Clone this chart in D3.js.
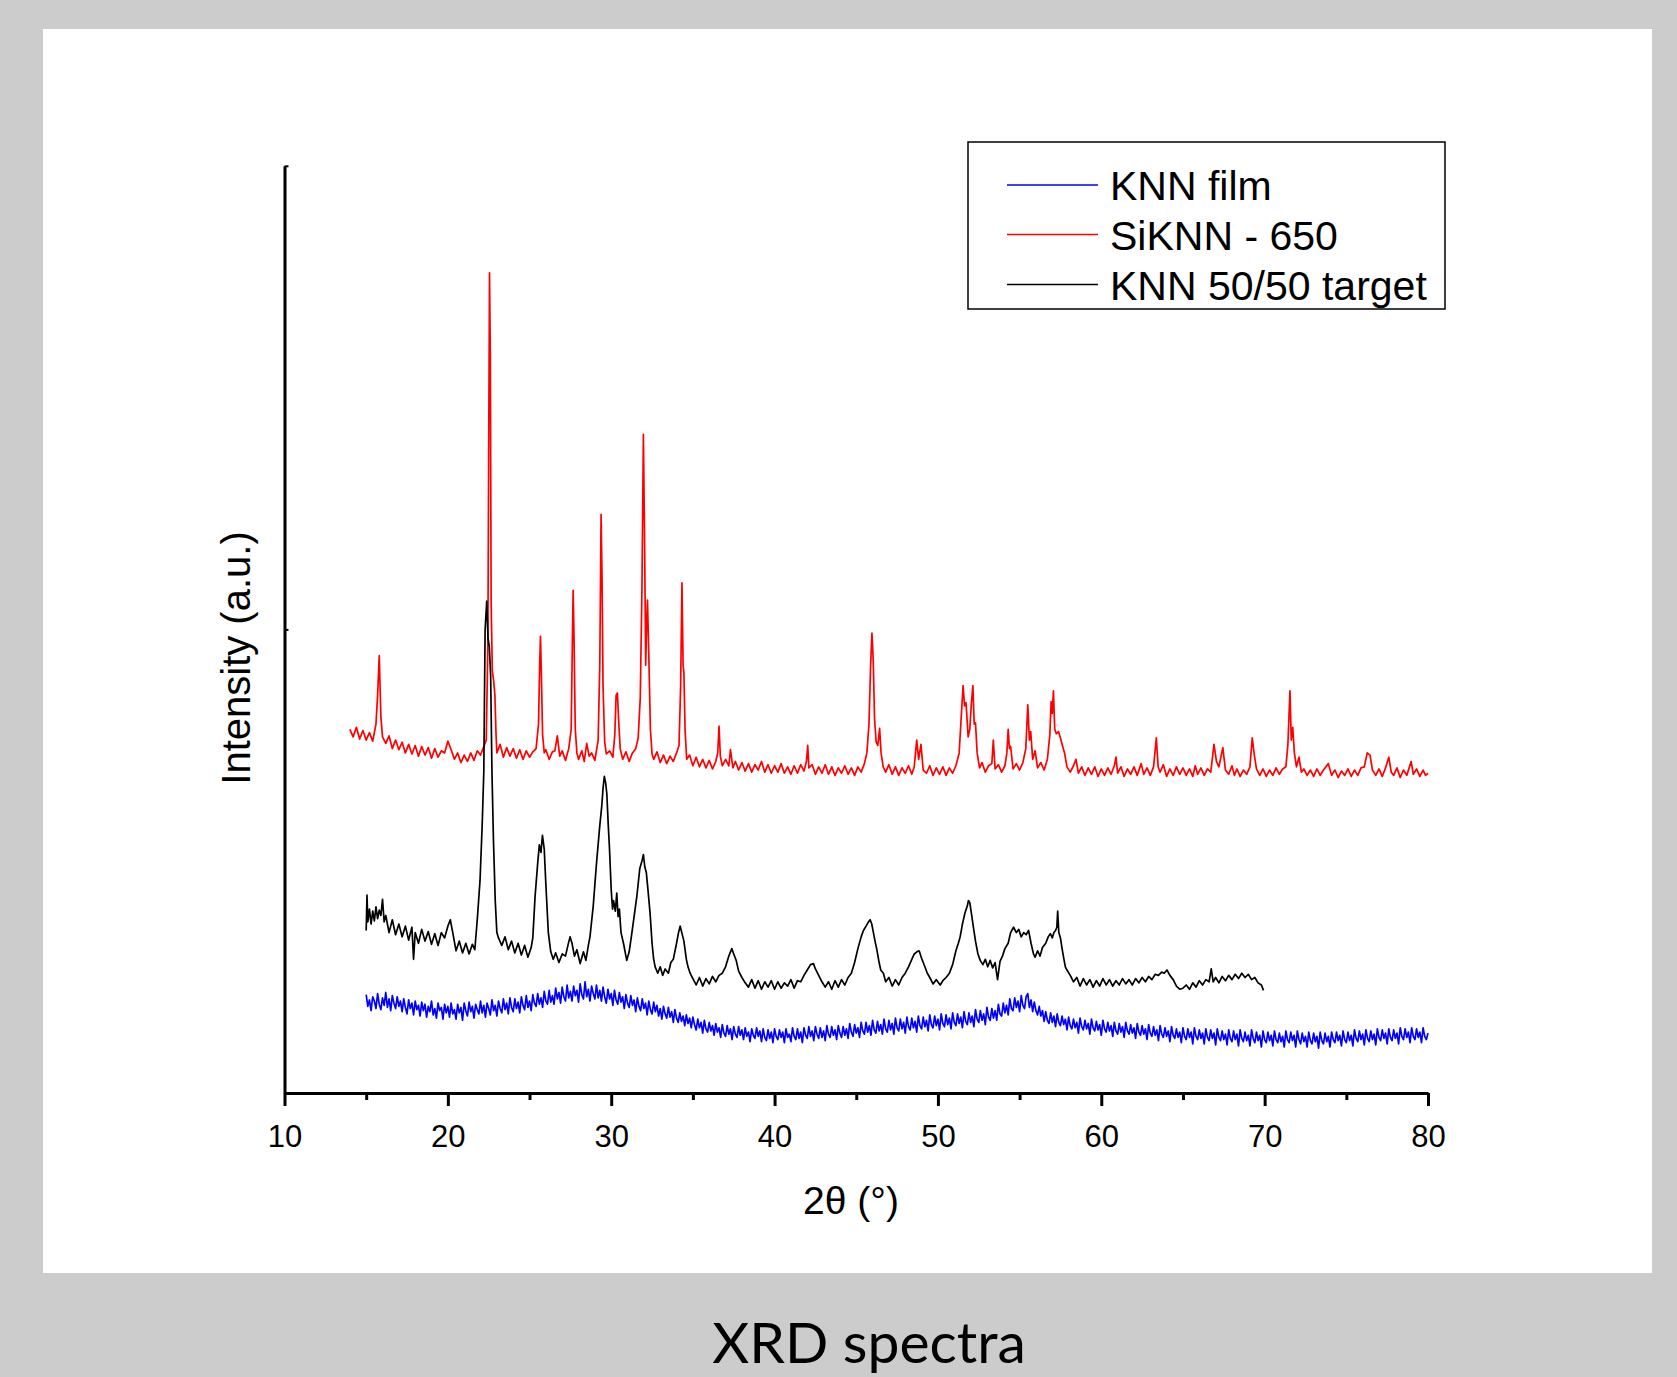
<!DOCTYPE html>
<html>
<head>
<meta charset="utf-8">
<script src="https://cdn.jsdelivr.net/npm/d3@7/dist/d3.min.js"></script>
<style>
html,body{margin:0;padding:0;background:#cccccc;}
svg{display:block;}
</style>
</head>
<body>
<svg id="chart" width="1677" height="1377"></svg>
<script>
// ---------------- DATA ----------------
const xMajorTicks = [10, 20, 30, 40, 50, 60, 70, 80];
const xMinorTicks = [15, 25, 35, 45, 55, 65, 75];
const yTicks = [433.5, 867];
const seriesNames = ["KNN film", "SiKNN - 650", "KNN 50/50 target"];
const seriesColors = ["#0000ff", "#ff0000", "#000000"];
const chartTitle = "XRD spectra";
const xTitle = "2\u03b8 (\u00b0)";
const yTitle = "Intensity (a.u.)";

// SiKNN - 650 (red) [2theta, intensity a.u.]
const siknn650 = [
[14.0,340],[14.2,333],[14.4,342],[14.6,331],[14.8,339],[15.0,330],[15.2,337],[15.4,329],[15.6,345],[15.7,372],[15.8,409],[15.9,352],
[16.0,333],[16.2,327],[16.4,334],[16.6,322],[16.8,330],[17.0,321],[17.2,328],[17.4,318],[17.6,326],[17.8,317],[18.0,325],[18.2,315],
[18.4,324],[18.6,316],[18.8,323],[19.0,313],[19.2,322],[19.4,314],[19.6,320],[19.8,318],[20.0,329],[20.2,321],[20.4,312],[20.6,318],
[20.8,309],[21.0,316],[21.2,310],[21.4,318],[21.6,311],[21.8,320],[22.0,316],[22.2,324],[22.35,330],[22.45,420],[22.5,600],[22.55,767],
[22.6,690],[22.65,460],[22.72,395],[22.8,386],[22.88,372],[22.95,335],[23.0,318],[23.2,326],[23.4,314],[23.6,323],[23.8,315],[24.0,322],
[24.2,313],[24.4,321],[24.6,312],[24.8,320],[25.0,314],[25.2,319],[25.4,322],[25.55,345],[25.62,400],[25.67,427],[25.72,395],[25.8,335],
[25.9,318],[26.0,321],[26.2,312],[26.4,319],[26.55,320],[26.7,334],[26.85,315],[27.0,320],[27.2,311],[27.4,322],[27.55,340],[27.62,420],
[27.67,470],[27.72,430],[27.8,340],[27.9,318],[28.0,312],[28.2,320],[28.35,310],[28.5,327],[28.65,315],[28.8,318],[29.0,311],[29.2,330],
[29.3,400],[29.38,541],[29.44,480],[29.5,380],[29.6,328],[29.7,317],[29.9,320],[30.1,314],[30.22,335],[30.3,372],[30.38,374],[30.45,350],
[30.55,322],[30.7,312],[30.9,319],[31.1,310],[31.3,318],[31.5,322],[31.65,332],[31.78,370],[31.88,470],[31.97,616],[32.04,520],[32.11,400],
[32.17,440],[32.22,461],[32.3,410],[32.4,340],[32.5,317],[32.6,312],[32.8,319],[33.0,309],[33.2,316],[33.4,308],[33.6,315],[33.8,310],
[34.0,318],[34.15,325],[34.25,380],[34.33,477],[34.4,400],[34.45,393],[34.52,340],[34.62,312],[34.8,316],[35.0,306],[35.2,314],[35.4,305],
[35.6,312],[35.8,304],[36.0,311],[36.2,303],[36.4,310],[36.52,318],[36.6,343],[36.68,315],[36.8,306],[37.0,312],[37.2,306],[37.3,321],
[37.45,304],[37.6,310],[37.8,302],[38.0,309],[38.2,301],[38.4,308],[38.6,300],[38.8,307],[39.0,302],[39.2,310],[39.4,300],[39.6,307],
[39.8,299],[40.0,306],[40.2,300],[40.4,308],[40.6,299],[40.8,305],[41.0,298],[41.2,306],[41.4,299],[41.6,307],[41.8,301],[41.95,310],
[42.03,325],[42.1,304],[42.3,307],[42.5,298],[42.7,305],[42.9,299],[43.1,307],[43.3,298],[43.5,305],[43.7,297],[43.9,304],[44.1,299],
[44.3,306],[44.5,298],[44.7,304],[44.9,297],[45.1,305],[45.3,300],[45.5,308],[45.65,318],[45.78,345],[45.88,400],[45.96,430],[46.04,405],
[46.12,350],[46.22,328],[46.32,325],[46.43,341],[46.52,318],[46.65,305],[46.8,300],[47.0,307],[47.2,298],[47.4,305],[47.6,297],[47.8,304],
[48.0,299],[48.2,306],[48.4,298],[48.55,305],[48.7,330],[48.82,312],[48.96,326],[49.1,302],[49.3,299],[49.5,306],[49.7,297],[49.9,304],
[50.1,298],[50.3,305],[50.5,297],[50.7,304],[50.9,299],[51.1,306],[51.3,318],[51.42,350],[51.54,381],[51.63,362],[51.72,365],[51.85,333],
[51.95,340],[52.05,365],[52.14,381],[52.22,345],[52.3,346],[52.4,318],[52.55,304],[52.7,309],[52.9,300],[53.1,306],[53.3,308],[53.39,330],
[53.5,303],[53.7,307],[53.9,300],[54.1,306],[54.22,318],[54.3,340],[54.38,322],[54.45,324],[54.6,303],[54.8,308],[55.0,302],[55.2,309],
[55.38,322],[55.5,363],[55.6,330],[55.68,338],[55.8,312],[55.95,320],[56.1,304],[56.3,309],[56.5,302],[56.7,312],[56.85,335],[56.93,366],
[57.0,355],[57.07,376],[57.15,340],[57.25,336],[57.38,338],[57.5,332],[57.62,325],[57.75,318],[57.9,305],[58.1,300],[58.3,306],[58.45,312],
[58.6,299],[58.8,305],[59.0,297],[59.2,304],[59.4,298],[59.6,305],[59.8,296],[60.0,303],[60.2,297],[60.4,304],[60.6,298],[60.8,306],
[60.9,314],[61.0,299],[61.2,305],[61.4,296],[61.6,303],[61.8,298],[62.0,305],[62.2,297],[62.44,308],[62.6,298],[62.8,304],[63.0,297],
[63.2,305],[63.37,332],[63.48,305],[63.6,300],[63.8,307],[64.0,296],[64.2,303],[64.4,297],[64.6,305],[64.8,298],[65.0,304],[65.2,297],
[65.4,303],[65.6,296],[65.75,306],[65.9,298],[66.1,304],[66.3,297],[66.5,303],[66.7,300],[66.9,326],[67.05,310],[67.2,305],[67.44,323],
[67.6,302],[67.8,298],[68.0,306],[68.15,297],[68.3,303],[68.5,296],[68.7,302],[68.9,298],[69.1,305],[69.24,332],[69.35,318],[69.5,303],
[69.7,297],[69.9,303],[70.1,296],[70.3,302],[70.5,297],[70.7,304],[70.9,298],[71.1,303],[71.3,305],[71.42,325],[71.55,376],[71.63,330],
[71.72,342],[71.82,318],[71.95,305],[72.1,314],[72.25,300],[72.4,303],[72.6,297],[72.8,302],[73.0,296],[73.2,303],[73.4,297],[73.6,302],
[73.9,308],[74.1,297],[74.3,302],[74.5,295],[74.7,301],[74.9,297],[75.1,303],[75.3,296],[75.5,302],[75.7,297],[75.9,304],[76.1,305],
[76.28,318],[76.45,316],[76.6,302],[76.8,297],[77.0,303],[77.2,296],[77.4,304],[77.6,314],[77.75,300],[77.9,297],[78.1,304],[78.3,295],
[78.5,302],[78.7,297],[78.97,310],[79.1,298],[79.3,303],[79.5,296],[79.7,302],[79.85,297],[80.0,299]
];

// KNN 50/50 target (black)
const knnTarget = [
[15.0,152],[15.05,185],[15.1,160],[15.2,172],[15.3,158],[15.4,170],[15.5,161],[15.6,174],[15.7,163],[15.8,171],[15.9,166],[16.0,181],
[16.1,160],[16.2,166],[16.4,150],[16.6,162],[16.8,148],[17.0,158],[17.2,146],[17.4,156],[17.6,143],[17.8,155],[17.9,125],[18.0,150],
[18.2,140],[18.4,153],[18.6,142],[18.8,151],[19.0,139],[19.2,149],[19.4,138],[19.6,150],[19.8,145],[20.0,156],[20.15,162],[20.3,150],
[20.5,133],[20.7,142],[20.9,131],[21.1,140],[21.3,130],[21.5,139],[21.65,134],[21.8,162],[21.97,199],[22.1,250],[22.2,300],[22.28,433],
[22.38,460],[22.46,425],[22.54,417],[22.62,390],[22.7,300],[22.79,237],[22.9,180],[23.0,150],[23.1,145],[23.3,138],[23.5,146],[23.7,134],
[23.9,142],[24.1,131],[24.3,140],[24.5,129],[24.7,138],[24.9,127],[25.1,136],[25.2,145],[25.34,184],[25.5,215],[25.6,232],[25.7,225],
[25.79,241],[25.9,228],[26.0,195],[26.15,150],[26.3,132],[26.45,125],[26.6,131],[26.8,122],[27.0,130],[27.2,128],[27.35,138],[27.48,146],
[27.6,140],[27.75,128],[27.9,134],[28.1,121],[28.3,132],[28.45,124],[28.6,138],[28.7,146],[28.9,175],[29.1,215],[29.3,250],[29.42,268],
[29.5,285],[29.58,296],[29.66,290],[29.73,280],[29.82,250],[29.89,230],[30.0,190],[30.08,172],[30.14,180],[30.25,170],[30.34,187],[30.42,165],
[30.5,172],[30.6,150],[30.75,140],[30.95,124],[31.1,132],[31.25,148],[31.4,165],[31.57,184],[31.75,210],[31.9,218],[31.97,223],[32.05,212],
[32.15,206],[32.25,190],[32.38,168],[32.5,140],[32.6,125],[32.69,118],[32.85,112],[33.0,118],[33.15,110],[33.3,116],[33.5,112],[33.65,122],
[33.8,125],[34.0,140],[34.12,150],[34.22,156],[34.32,150],[34.45,142],[34.6,125],[34.7,118],[34.83,112],[35.0,107],[35.2,101],[35.4,108],
[35.6,100],[35.8,107],[36.0,102],[36.2,109],[36.4,104],[36.6,110],[36.8,112],[37.0,118],[37.2,128],[37.38,135],[37.5,130],[37.65,124],
[37.8,114],[38.0,108],[38.2,103],[38.4,99],[38.6,106],[38.8,98],[39.0,105],[39.2,97],[39.4,104],[39.6,99],[39.8,105],[40.0,97],
[40.2,104],[40.4,98],[40.6,103],[40.8,100],[41.0,106],[41.2,98],[41.4,105],[41.6,104],[41.8,110],[42.0,115],[42.2,120],[42.38,121],
[42.5,116],[42.7,110],[42.9,104],[43.1,99],[43.3,104],[43.5,97],[43.7,105],[43.9,99],[44.1,106],[44.3,101],[44.5,108],[44.7,112],
[44.9,122],[45.1,135],[45.3,146],[45.44,152],[45.6,156],[45.75,160],[45.85,162],[45.95,158],[46.05,150],[46.15,142],[46.26,134],[46.4,122],
[46.5,115],[46.66,112],[46.8,104],[47.0,108],[47.2,100],[47.4,106],[47.6,101],[47.8,108],[48.0,112],[48.2,118],[48.4,125],[48.55,130],
[48.71,132],[48.85,133],[49.0,126],[49.2,118],[49.35,112],[49.5,108],[49.7,102],[49.9,106],[50.14,101],[50.3,105],[50.5,108],[50.7,112],
[50.9,120],[51.1,133],[51.25,140],[51.36,146],[51.5,158],[51.65,168],[51.8,175],[51.87,180],[51.95,178],[52.05,168],[52.17,155],[52.3,142],
[52.45,130],[52.59,124],[52.75,120],[52.9,125],[53.05,118],[53.2,124],[53.35,117],[53.5,122],[53.65,106],[53.8,123],[53.95,128],[54.1,135],
[54.3,140],[54.45,150],[54.63,155],[54.8,150],[54.95,153],[55.1,146],[55.25,150],[55.4,148],[55.55,152],[55.7,140],[55.85,130],[55.95,127],
[56.1,133],[56.25,128],[56.4,136],[56.6,140],[56.75,146],[56.88,149],[57.0,145],[57.1,150],[57.2,152],[57.28,155],[57.33,170],[57.4,150],
[57.5,145],[57.6,135],[57.69,127],[57.8,118],[57.9,115],[58.1,110],[58.3,104],[58.5,108],[58.7,100],[58.9,107],[59.1,101],[59.3,106],
[59.5,99],[59.7,105],[59.9,100],[60.1,107],[60.3,101],[60.5,106],[60.7,100],[60.9,105],[61.1,101],[61.3,107],[61.5,102],[61.7,106],
[61.9,101],[62.1,107],[62.3,103],[62.5,108],[62.7,104],[62.9,109],[63.1,106],[63.3,111],[63.5,110],[63.7,113],[63.85,112],[64.02,115],
[64.2,110],[64.4,106],[64.6,100],[64.8,97],[65.0,98],[65.2,101],[65.4,97],[65.6,103],[65.8,99],[66.0,105],[66.2,101],[66.4,106],
[66.6,104],[66.73,116],[66.85,104],[67.0,108],[67.2,103],[67.4,109],[67.6,105],[67.8,110],[68.0,106],[68.2,111],[68.4,107],[68.6,112],
[68.8,108],[69.0,111],[69.2,106],[69.4,108],[69.6,103],[69.8,101],[69.93,96]
];

// KNN film (blue)
const knnFilm = [
[15.0,92],[15.1,81],[15.2,87],[15.3,77],[15.4,90],[15.5,86],[15.6,79],[15.7,93],[15.8,83],[15.9,78],[16.0,89],[16.1,82],[16.2,94],[16.3,80],
[16.4,88],[16.5,77],[16.6,91],[16.7,84],[16.8,79],[16.9,90],[17.0,81],[17.1,86],[17.2,76],[17.3,88],[17.4,80],[17.5,74],[17.6,87],[17.7,79],
[17.8,84],[17.9,73],[18.0,86],[18.1,78],[18.2,82],[18.3,72],[18.4,85],[18.5,77],[18.6,83],[18.7,71],[18.8,81],[18.9,76],[19.0,86],[19.1,73],
[19.2,79],[19.3,70],[19.4,84],[19.5,77],[19.6,80],[19.7,69],[19.8,83],[19.9,75],[20.0,81],[20.1,71],[20.2,84],[20.3,74],[20.4,78],[20.5,69],
[20.6,83],[20.7,75],[20.8,80],[20.9,68],[21.0,84],[21.1,77],[21.2,72],[21.3,85],[21.4,76],[21.5,81],[21.6,70],[21.7,83],[21.8,78],[21.9,74],
[22.0,86],[22.1,75],[22.2,82],[22.3,71],[22.4,84],[22.5,79],[22.6,73],[22.7,87],[22.8,77],[22.9,82],[23.0,72],[23.1,86],[23.2,79],[23.3,75],
[23.4,88],[23.5,78],[23.6,84],[23.7,74],[23.8,89],[23.9,80],[24.0,76],[24.1,88],[24.2,79],[24.3,85],[24.4,75],[24.5,90],[24.6,82],[24.7,78],
[24.8,91],[24.9,80],[25.0,86],[25.1,77],[25.2,92],[25.3,84],[25.4,81],[25.5,93],[25.6,83],[25.7,89],[25.8,80],[25.9,95],[26.0,86],[26.1,83],
[26.2,96],[26.3,85],[26.4,91],[26.5,83],[26.6,98],[26.7,88],[26.8,94],[26.9,84],[27.0,99],[27.1,90],[27.2,86],[27.3,101],[27.4,89],[27.5,95],
[27.6,86],[27.7,100],[27.8,91],[27.9,96],[28.0,85],[28.1,102],[28.2,92],[28.3,88],[28.4,104],[28.5,90],[28.6,97],[28.7,86],[28.8,100],[28.9,93],
[29.0,88],[29.1,101],[29.2,89],[29.3,96],[29.4,86],[29.5,99],[29.6,90],[29.7,84],[29.8,97],[29.9,88],[30.0,93],[30.1,82],[30.2,96],[30.3,87],
[30.4,83],[30.5,94],[30.6,85],[30.7,90],[30.8,79],[30.9,92],[31.0,84],[31.1,80],[31.2,91],[31.3,82],[31.4,87],[31.5,76],[31.6,89],[31.7,81],
[31.8,77],[31.9,88],[32.0,79],[32.1,84],[32.2,73],[32.3,86],[32.4,78],[32.5,74],[32.6,85],[32.7,76],[32.8,82],[32.9,72],[33.0,79],[33.1,69],
[33.2,81],[33.3,74],[33.4,70],[33.5,80],[33.6,71],[33.7,76],[33.8,66],[33.9,78],[34.0,70],[34.1,66],[34.2,75],[34.3,67],[34.4,72],[34.5,63],
[34.6,73],[34.7,65],[34.8,70],[34.9,61],[35.0,71],[35.1,64],[35.2,59],[35.3,69],[35.4,61],[35.5,66],[35.6,56],[35.7,68],[35.8,60],[35.9,57],
[36.0,66],[36.1,58],[36.2,63],[36.3,54],[36.4,65],[36.5,57],[36.6,61],[36.7,52],[36.8,64],[36.9,56],[37.0,53],[37.1,63],[37.2,55],[37.3,60],
[37.4,50],[37.5,62],[37.6,55],[37.7,52],[37.8,62],[37.9,54],[38.0,59],[38.1,50],[38.2,61],[38.3,53],[38.4,57],[38.5,48],[38.6,60],[38.7,54],
[38.8,51],[38.9,61],[39.0,53],[39.1,58],[39.2,48],[39.3,60],[39.4,52],[39.5,49],[39.6,59],[39.7,51],[39.8,57],[39.9,47],[40.0,60],[40.1,53],
[40.2,50],[40.3,59],[40.4,52],[40.5,57],[40.6,47],[40.7,60],[40.8,52],[40.9,55],[41.0,48],[41.1,61],[41.2,53],[41.3,50],[41.4,60],[41.5,51],
[41.6,57],[41.7,47],[41.8,61],[41.9,54],[42.0,51],[42.1,62],[42.2,53],[42.3,58],[42.4,49],[42.5,62],[42.6,55],[42.7,51],[42.8,61],[42.9,52],
[43.0,58],[43.1,49],[43.2,63],[43.3,55],[43.4,52],[43.5,62],[43.6,54],[43.7,59],[43.8,50],[43.9,63],[44.0,56],[44.1,52],[44.2,62],[44.3,54],
[44.4,60],[44.5,51],[44.6,65],[44.7,57],[44.8,53],[44.9,64],[45.0,56],[45.1,61],[45.2,52],[45.3,66],[45.4,58],[45.5,55],[45.6,66],[45.7,57],
[45.8,63],[45.9,54],[46.0,68],[46.1,59],[46.2,56],[46.3,67],[46.4,58],[46.5,64],[46.6,55],[46.7,69],[46.8,60],[46.9,57],[47.0,68],[47.1,59],
[47.2,65],[47.3,55],[47.4,70],[47.5,61],[47.6,58],[47.7,69],[47.8,60],[47.9,66],[48.0,56],[48.1,71],[48.2,62],[48.3,59],[48.4,70],[48.5,61],
[48.6,67],[48.7,57],[48.8,72],[48.9,63],[49.0,60],[49.1,71],[49.2,62],[49.3,68],[49.4,58],[49.5,73],[49.6,64],[49.7,61],[49.8,72],[49.9,63],
[50.0,69],[50.1,59],[50.2,74],[50.3,65],[50.4,62],[50.5,73],[50.6,64],[50.7,70],[50.8,60],[50.9,75],[51.0,66],[51.1,63],[51.2,74],[51.3,65],
[51.4,71],[51.5,61],[51.6,76],[51.7,67],[51.8,64],[51.9,75],[52.0,66],[52.1,72],[52.2,62],[52.3,78],[52.4,69],[52.5,66],[52.6,77],[52.7,68],
[52.8,74],[52.9,64],[53.0,80],[53.1,71],[53.2,68],[53.3,79],[53.4,70],[53.5,77],[53.6,68],[53.7,83],[53.8,74],[53.9,72],[54.0,84],[54.1,75],
[54.2,82],[54.3,73],[54.4,88],[54.5,79],[54.6,77],[54.7,89],[54.8,80],[54.9,86],[55.0,76],[55.1,91],[55.2,82],[55.3,79],[55.4,90],[55.5,93],
[55.6,80],[55.7,87],[55.8,76],[55.9,85],[56.0,77],[56.1,73],[56.2,81],[56.3,72],[56.4,77],[56.5,67],[56.6,76],[56.7,68],[56.8,65],[56.9,75],
[57.0,66],[57.1,72],[57.2,62],[57.3,74],[57.4,66],[57.5,63],[57.6,72],[57.7,64],[57.8,69],[57.9,59],[58.0,71],[58.1,63],[58.2,60],[58.3,69],
[58.4,61],[58.5,66],[58.6,56],[58.7,70],[58.8,62],[58.9,59],[59.0,68],[59.1,60],[59.2,65],[59.3,55],[59.4,69],[59.5,61],[59.6,58],[59.7,67],
[59.8,59],[59.9,64],[60.0,54],[60.1,68],[60.2,60],[60.3,57],[60.4,66],[60.5,58],[60.6,63],[60.7,53],[60.8,66],[60.9,58],[61.0,55],[61.1,65],
[61.2,57],[61.3,62],[61.4,52],[61.5,66],[61.6,58],[61.7,55],[61.8,64],[61.9,56],[62.0,61],[62.1,51],[62.2,65],[62.3,57],[62.4,54],[62.5,63],
[62.6,55],[62.7,60],[62.8,50],[62.9,64],[63.0,56],[63.1,53],[63.2,62],[63.3,54],[63.4,59],[63.5,49],[63.6,63],[63.7,55],[63.8,52],[63.9,61],
[64.0,53],[64.1,58],[64.2,48],[64.3,62],[64.4,54],[64.5,51],[64.6,60],[64.7,52],[64.8,57],[64.9,47],[65.0,61],[65.1,53],[65.2,50],[65.3,60],
[65.4,52],[65.5,57],[65.6,46],[65.7,61],[65.8,53],[65.9,50],[66.0,59],[66.1,51],[66.2,56],[66.3,46],[66.4,60],[66.5,52],[66.6,49],[66.7,59],
[66.8,51],[66.9,56],[67.0,45],[67.1,60],[67.2,52],[67.3,49],[67.4,58],[67.5,50],[67.6,55],[67.7,45],[67.8,59],[67.9,51],[68.0,48],[68.1,58],
[68.2,50],[68.3,55],[68.4,44],[68.5,59],[68.6,51],[68.7,48],[68.8,57],[68.9,49],[69.0,54],[69.1,44],[69.2,59],[69.3,51],[69.4,47],[69.5,57],
[69.6,49],[69.7,54],[69.8,43],[69.9,58],[70.0,50],[70.1,47],[70.2,57],[70.3,49],[70.4,54],[70.5,44],[70.6,58],[70.7,50],[70.8,47],[70.9,56],
[71.0,48],[71.1,53],[71.2,43],[71.3,58],[71.4,50],[71.5,47],[71.6,57],[71.7,49],[71.8,54],[71.9,43],[72.0,58],[72.1,50],[72.2,46],[72.3,56],
[72.4,48],[72.5,53],[72.6,43],[72.7,57],[72.8,49],[72.9,46],[73.0,56],[73.1,48],[73.2,53],[73.3,42],[73.4,57],[73.5,49],[73.6,46],[73.7,56],
[73.8,48],[73.9,53],[74.0,43],[74.1,57],[74.2,50],[74.3,47],[74.4,57],[74.5,49],[74.6,54],[74.7,44],[74.8,58],[74.9,50],[75.0,47],[75.1,57],
[75.2,49],[75.3,54],[75.4,44],[75.5,59],[75.6,51],[75.7,48],[75.8,58],[75.9,50],[76.0,55],[76.1,45],[76.2,59],[76.3,51],[76.4,48],[76.5,58],
[76.6,50],[76.7,55],[76.8,45],[76.9,60],[77.0,52],[77.1,49],[77.2,59],[77.3,51],[77.4,56],[77.5,46],[77.6,60],[77.7,52],[77.8,49],[77.9,59],
[78.0,51],[78.1,56],[78.2,46],[78.3,61],[78.4,53],[78.5,50],[78.6,60],[78.7,52],[78.8,57],[78.9,47],[79.0,61],[79.1,53],[79.2,50],[79.3,60],
[79.4,52],[79.5,57],[79.6,47],[79.7,61],[79.8,53],[79.9,50],[80.0,56]
];

// ---------------- DRAW ----------------
const svg = d3.select("#chart");
const W = 1677, H = 1377;
const AXIS_FONT = "'Liberation Sans', Arial, sans-serif";

svg.append("rect").attr("x",0).attr("y",0).attr("width",W).attr("height",H).attr("fill","#cccccc");
svg.append("rect").attr("x",43).attr("y",29).attr("width",1609).attr("height",1244).attr("fill","#ffffff");

const x = d3.scaleLinear().domain([10, 80]).range([284.5, 1428]);
const y = d3.scaleLinear().domain([0, 867]).range([1093, 165.8]);

// series lines (red under black, blue last)
const line = d3.line().x(d => x(d[0])).y(d => y(d[1]));
const drawOrder = [[siknn650, seriesColors[1]], [knnTarget, seriesColors[2]], [knnFilm, seriesColors[0]]];
drawOrder.forEach(([data, color]) => {
  svg.append("path").datum(data)
    .attr("d", line)
    .attr("fill", "none")
    .attr("stroke", color)
    .attr("stroke-width", 1.7)
    .attr("stroke-linejoin", "round");
});

// X axis (major)
const xAxisG = svg.append("g").attr("transform", `translate(0,${y(0)})`)
  .call(d3.axisBottom(x).tickValues(xMajorTicks).tickSize(13).tickSizeOuter(0).tickPadding(18.5).tickFormat(d3.format("d")));
xAxisG.select(".domain").attr("stroke", "#000").attr("stroke-width", 3);
xAxisG.selectAll(".tick line").attr("stroke", "#000").attr("stroke-width", 3);
xAxisG.selectAll(".tick text").attr("font-family", AXIS_FONT).attr("font-size", 31).attr("fill", "#000");

// X axis (minor)
const xMinorG = svg.append("g").attr("transform", `translate(0,${y(0)})`)
  .call(d3.axisBottom(x).tickValues(xMinorTicks).tickSize(7).tickSizeOuter(0).tickFormat(""));
xMinorG.select(".domain").remove();
xMinorG.selectAll(".tick line").attr("stroke", "#000").attr("stroke-width", 3);

// Y axis
const yAxisG = svg.append("g").attr("transform", `translate(${x(10)},0)`)
  .call(d3.axisRight(y).tickValues(yTicks).tickSize(4).tickSizeOuter(0).tickFormat(""));
yAxisG.select(".domain").attr("stroke", "#000").attr("stroke-width", 3);
yAxisG.selectAll(".tick line").attr("stroke", "#000").attr("stroke-width", 2);

// axis titles
svg.append("text").attr("x", 851).attr("y", 1214).attr("text-anchor", "middle")
  .attr("font-family", AXIS_FONT).attr("font-size", 39).attr("fill", "#000").text(xTitle);
svg.append("text").attr("transform", "translate(250,658) rotate(-90)").attr("text-anchor", "middle")
  .attr("font-family", AXIS_FONT).attr("font-size", 40).attr("fill", "#000").text(yTitle);

// legend
const lg = svg.append("g");
lg.append("rect").attr("x", 968).attr("y", 142).attr("width", 477).attr("height", 167)
  .attr("fill", "#fff").attr("stroke", "#000").attr("stroke-width", 1.5);
const rowY = [185, 234.5, 284.5];
seriesNames.forEach((name, i) => {
  lg.append("line").attr("x1", 1007).attr("x2", 1098).attr("y1", rowY[i]).attr("y2", rowY[i])
    .attr("stroke", seriesColors[i]).attr("stroke-width", 1.7);
  lg.append("text").attr("x", 1110).attr("y", rowY[i] + 15)
    .attr("font-family", AXIS_FONT).attr("font-size", 41).attr("fill", "#000").text(name);
});

// title
svg.append("text").attr("x", 869).attr("y", 1363).attr("text-anchor", "middle")
  .attr("font-family", "Lato, 'Open Sans', sans-serif").attr("font-size", 57).attr("fill", "#000").text(chartTitle);
</script>
</body>
</html>
